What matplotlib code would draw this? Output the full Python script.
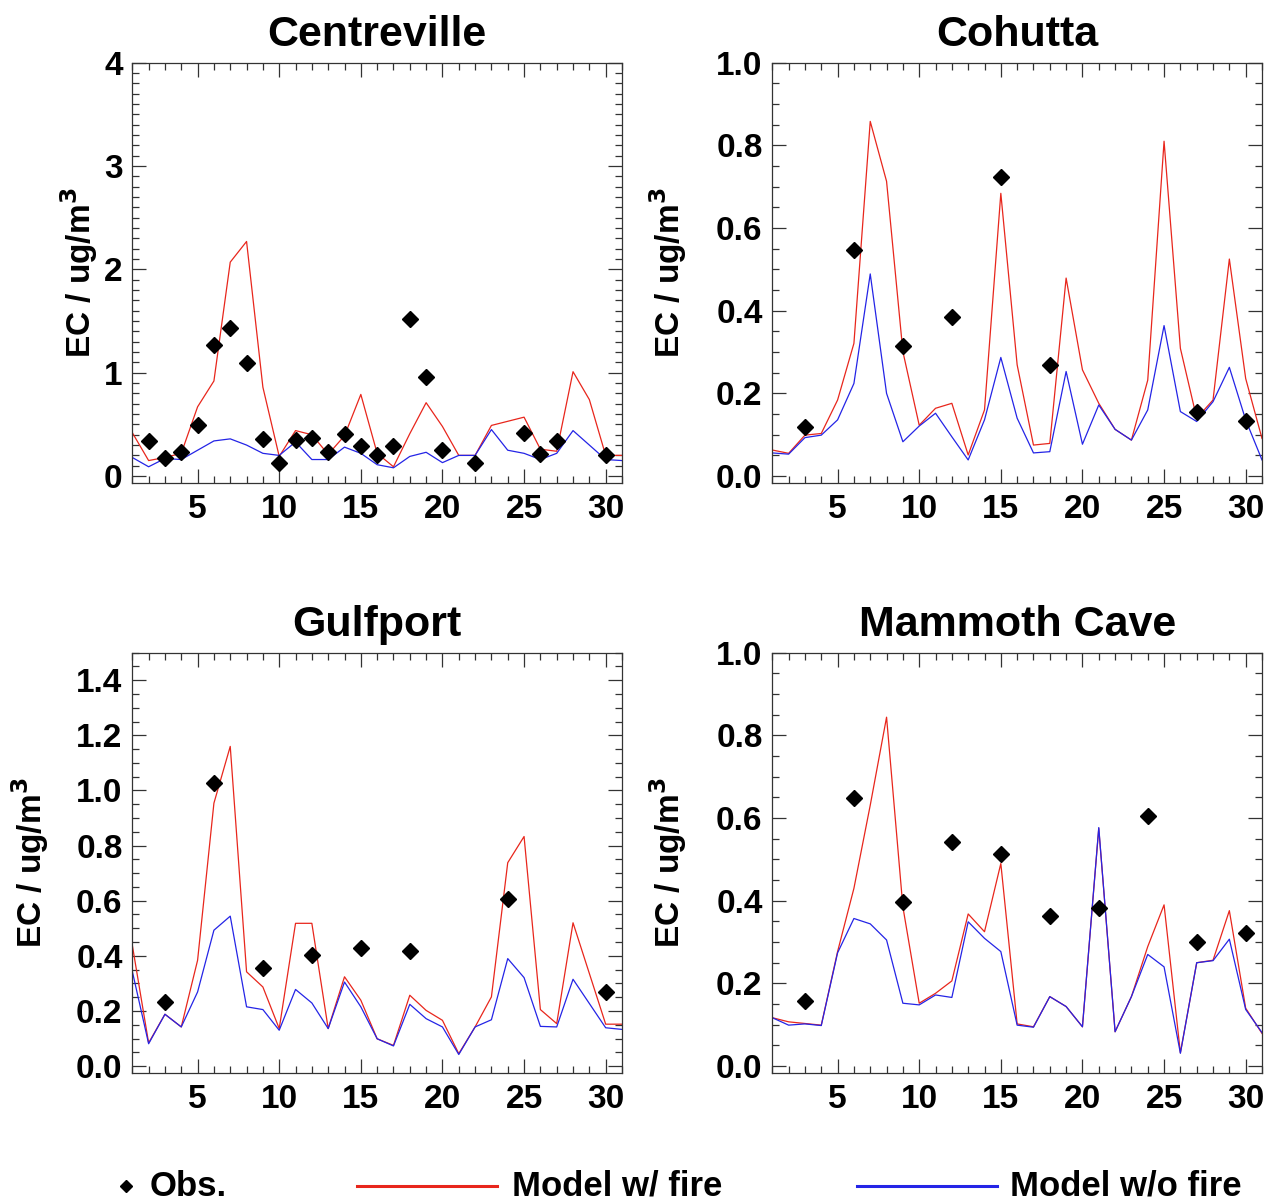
import matplotlib
matplotlib.use('Agg')
import matplotlib.pyplot as plt
from matplotlib.lines import Line2D
from matplotlib.ticker import MultipleLocator

plt.rcParams['font.family'] = ['Liberation Sans', 'DejaVu Sans']
plt.rcParams['font.weight'] = 'bold'
plt.rcParams['mathtext.default'] = 'bf'

days = list(range(1, 32))
obs_days_centreville = [2, 3, 4, 5, 6, 7, 8, 9, 10, 11, 12, 13, 14, 15, 16, 17, 18, 19, 20, 22, 25, 26, 27, 30]
obs_days_3rd = [3, 6, 9, 12, 15, 18, 21, 24, 27, 30]

# Centreville
cen_fire = [0.42, 0.15, 0.18, 0.22, 0.67, 0.92, 2.07, 2.27, 0.86, 0.19, 0.44, 0.40, 0.21, 0.39, 0.79, 0.22,
            0.09, 0.41, 0.71, 0.48, 0.20, 0.20, 0.49, 0.53, 0.57, 0.26, 0.24, 1.01, 0.74, 0.20, 0.20]
cen_nofire = [0.18, 0.09, 0.17, 0.16, 0.25, 0.34, 0.36, 0.30, 0.22, 0.20, 0.33, 0.16, 0.16, 0.28, 0.22, 0.11,
              0.08, 0.19, 0.23, 0.13, 0.20, 0.20, 0.45, 0.25, 0.22, 0.16, 0.22, 0.44, 0.30, 0.16, 0.15]
cen_obs = [0.34, 0.17, 0.23, 0.49, 1.27, 1.43, 1.09, 0.36, 0.13, 0.35, 0.37, 0.23, 0.41, 0.29, 0.20, 0.29,
           1.52, 0.96, 0.25, 0.13, 0.42, 0.21, 0.34, 0.20]

# Cohutta
coh_fire = [0.063, 0.055, 0.099, 0.103, 0.184, 0.321, 0.858, 0.713, 0.301, 0.123, 0.164, 0.176, 0.051, 0.160,
            0.684, 0.269, 0.075, 0.079, 0.479, 0.257, 0.176, 0.113, 0.087, 0.232, 0.810, 0.309, 0.140, 0.184,
            0.525, 0.236, 0.091]
coh_nofire = [0.056, 0.053, 0.093, 0.099, 0.136, 0.224, 0.489, 0.200, 0.083, 0.121, 0.152, 0.095, 0.039, 0.136,
              0.287, 0.140, 0.056, 0.059, 0.253, 0.077, 0.172, 0.113, 0.087, 0.160, 0.364, 0.156, 0.132, 0.180,
              0.263, 0.136, 0.039]
coh_obs = [0.119, 0.547, 0.315, 0.386, 0.723, 0.269, None, None, 0.156, 0.134]

# Gulfport
gul_fire = [0.439, 0.084, 0.188, 0.142, 0.384, 0.954, 1.160, 0.342, 0.287, 0.136, 0.518, 0.518, 0.136, 0.324,
            0.239, 0.099, 0.075, 0.257, 0.202, 0.166, 0.045, 0.142, 0.251, 0.738, 0.833, 0.205, 0.154, 0.520,
            0.336, 0.152, 0.152]
gul_nofire = [0.344, 0.081, 0.188, 0.142, 0.269, 0.493, 0.544, 0.215, 0.205, 0.130, 0.278, 0.229, 0.136, 0.305,
              0.215, 0.099, 0.073, 0.224, 0.172, 0.142, 0.042, 0.142, 0.168, 0.390, 0.321, 0.144, 0.142, 0.315,
              0.227, 0.139, 0.133]
gul_obs = [0.233, 1.027, 0.356, 0.402, 0.430, 0.418, None, 0.605, None, 0.267]

# Mammoth Cave
mam_fire = [0.117, 0.107, 0.103, 0.099, 0.277, 0.430, 0.631, 0.844, 0.385, 0.152, 0.176, 0.206, 0.368, 0.325,
            0.490, 0.102, 0.095, 0.168, 0.144, 0.095, 0.575, 0.083, 0.168, 0.289, 0.390, 0.032, 0.250, 0.256,
            0.376, 0.140, 0.079]
mam_nofire = [0.117, 0.099, 0.102, 0.098, 0.274, 0.357, 0.344, 0.305, 0.152, 0.148, 0.172, 0.166, 0.349, 0.309,
              0.277, 0.099, 0.094, 0.168, 0.144, 0.095, 0.577, 0.083, 0.168, 0.270, 0.240, 0.031, 0.250, 0.255,
              0.307, 0.137, 0.081]
mam_obs = [0.158, 0.648, 0.398, 0.541, 0.512, 0.363, 0.383, 0.605, 0.301, 0.323]

RED = '#e8261c'
BLUE = '#2424e6'
W, H = 1269, 1204

fig = plt.figure(figsize=(W / 100, H / 100), dpi=100)


def panel(rect, title, fire, nofire, obs_x, obs_y, ymax, ymajor, yminor, fmt, label_x):
    ax = fig.add_axes(rect)
    ax.plot(days, fire, color=RED, lw=0.9)
    ax.plot(days, nofire, color=BLUE, lw=0.9)
    ox = [d for d, v in zip(obs_x, obs_y) if v is not None]
    oy = [v for v in obs_y if v is not None]
    ax.plot(ox, oy, 'D', color='black', ms=7.8, ls='none')
    ax.set_xlim(1, 31)
    ax.set_ylim(-0.0175 * ymax, ymax)
    ax.xaxis.set_major_locator(MultipleLocator(5))
    ax.xaxis.set_minor_locator(MultipleLocator(1))
    ax.yaxis.set_major_locator(MultipleLocator(ymajor))
    ax.yaxis.set_minor_locator(MultipleLocator(yminor))
    ax.yaxis.set_major_formatter(fmt)
    ax.tick_params(which='both', direction='in', top=True, right=True, width=0.9, colors='#333333',
                   labelcolor='black', labelsize=24)
    ax.tick_params(which='major', length=10)
    ax.tick_params(which='minor', length=5)
    ax.tick_params(axis='y', pad=7)
    ax.tick_params(axis='x', pad=8)
    for s in ax.spines.values():
        s.set_linewidth(0.9)
        s.set_color('#333333')
    ax.set_title(title, fontsize=31, fontweight='bold', pad=12)
    ax.set_ylabel('EC / ug/m$^3$', fontsize=24, fontweight='bold')
    ax.yaxis.set_label_coords(label_x, 0.5)
    return ax


left1, left2 = 132.3 / W, 772.3 / W
aw = 489.7 / W
ah = 420.6 / H
b_top = 1 - 483.3 / H
b_bot = 1 - 1073.3 / H

panel([left1, b_top, aw, ah], 'Centreville', cen_fire, cen_nofire, obs_days_centreville, cen_obs,
      4.0, 1, 0.1, '{x:.0f}', -0.066)
panel([left2, b_top, aw, ah], 'Cohutta', coh_fire, coh_nofire, obs_days_3rd, coh_obs,
      1.0, 0.2, 0.05, '{x:.1f}', -0.17)
panel([left1, b_bot, aw, ah], 'Gulfport', gul_fire, gul_nofire, obs_days_3rd, gul_obs,
      1.5, 0.2, 0.05, '{x:.1f}', -0.166)
panel([left2, b_bot, aw, ah], 'Mammoth Cave', mam_fire, mam_nofire, obs_days_3rd, mam_obs,
      1.0, 0.2, 0.05, '{x:.1f}', -0.17)

# legend row along the bottom
ly = 1 - 1186 / H
fig.add_artist(Line2D([126 / W], [ly], marker='D', color='black', ms=6.5, transform=fig.transFigure))
fig.text(150 / W, ly, 'Obs.', fontsize=25, fontweight='bold', va='center', ha='left')
fig.add_artist(Line2D([357 / W, 497 / W], [ly, ly], color=RED, lw=2.2, transform=fig.transFigure))
fig.text(512 / W, ly, 'Model w/ fire', fontsize=25, fontweight='bold', va='center', ha='left')
fig.add_artist(Line2D([857 / W, 997 / W], [ly, ly], color=BLUE, lw=2.2, transform=fig.transFigure))
fig.text(1010 / W, ly, 'Model w/o fire', fontsize=25, fontweight='bold', va='center', ha='left')

fig.savefig('out.png', dpi=100)
